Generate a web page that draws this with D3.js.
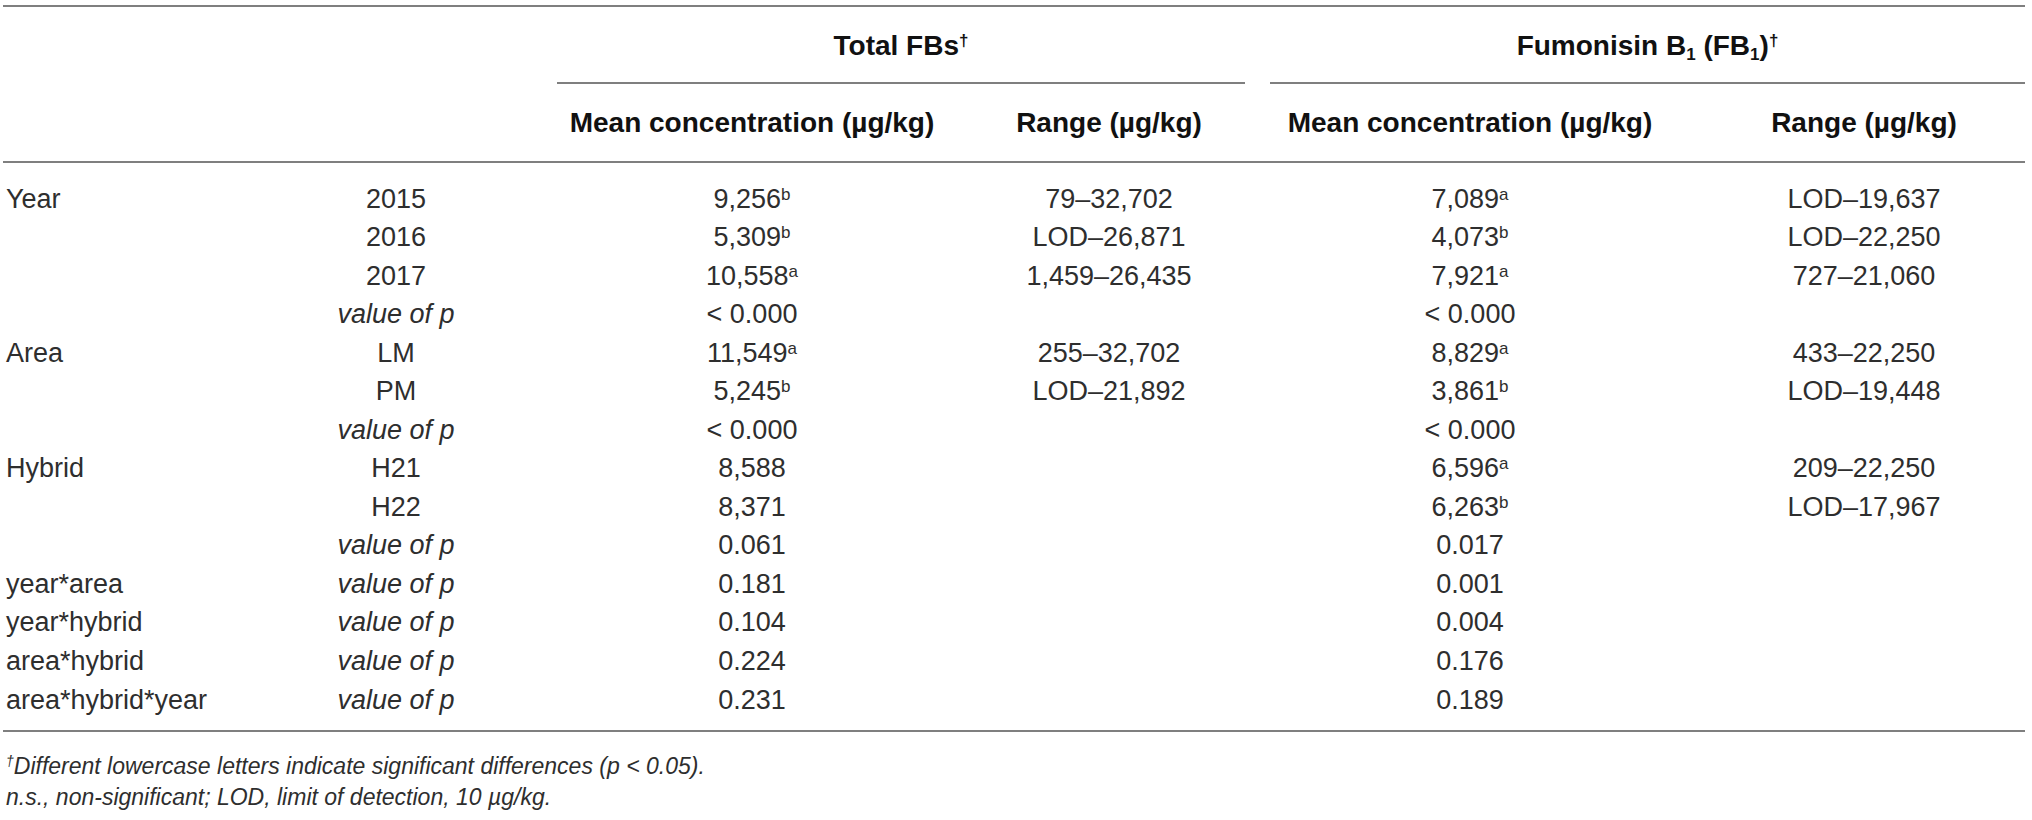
<!DOCTYPE html>
<html lang="en">
<head>
<meta charset="utf-8">
<title>Fumonisin table</title>
<style>
    body { margin: 0; background: #fff; }
    text { font-family: "Liberation Sans", Arial, sans-serif; fill: #231f20; }
    .head { font-weight: bold; font-size: 28px; fill: #111; }
    .cell { font-size: 27px; fill: #2e2e2e; }
    .note { font-size: 23px; font-style: italic; fill: #2e2e2e; }
    .rule { stroke: #7f7f7f; stroke-width: 2; }
</style>
<script src="https://cdn.jsdelivr.net/npm/d3@7"></script>
</head>
<body>
<svg width="2032" height="820"></svg>
<script>
// table content
const factors = ["Year", "", "", "", "Area", "", "", "Hybrid", "", "", "year*area", "year*hybrid", "area*hybrid", "area*hybrid*year"];
const levels = ["2015", "2016", "2017", "value of p", "LM", "PM", "value of p", "H21", "H22", "value of p", "value of p", "value of p", "value of p", "value of p"];
const fbMean = ["9,256", "5,309", "10,558", "< 0.000", "11,549", "5,245", "< 0.000", "8,588", "8,371", "0.061", "0.181", "0.104", "0.224", "0.231"];
const fbMeanSig = ["b", "b", "a", "", "a", "b", "", "", "", "", "", "", "", ""];
const fbRange = ["79–32,702", "LOD–26,871", "1,459–26,435", "", "255–32,702", "LOD–21,892", "", "", "", "", "", "", "", ""];
const fb1Mean = ["7,089", "4,073", "7,921", "< 0.000", "8,829", "3,861", "< 0.000", "6,596", "6,263", "0.017", "0.001", "0.004", "0.176", "0.189"];
const fb1MeanSig = ["a", "b", "a", "", "a", "b", "", "a", "b", "", "", "", "", ""];
const fb1Range = ["LOD–19,637", "LOD–22,250", "727–21,060", "", "433–22,250", "LOD–19,448", "", "209–22,250", "LOD–17,967", "", "", "", "", ""];

const columns = ["factor", "level", "fbMean", "fbRange", "fb1Mean", "fb1Range"];
const colHeads = ["", "", "Mean concentration (µg/kg)", "Range (µg/kg)", "Mean concentration (µg/kg)", "Range (µg/kg)"];

let svg = d3.select("svg");

let x = d3.scaleOrdinal()
    .domain(columns)
    .range([6, 396, 752, 1109, 1470, 1864]);

let y = d3.scaleLinear()
    .domain([0, factors.length - 1])
    .range([198, 699]);

const BASE = 9.5; // centre -> baseline

// rules
let rules = [
    [3, 2025, 6], [557, 1245, 83], [1270, 2025, 83], [3, 2025, 162], [3, 2025, 731]
];
svg.selectAll("line.rule").data(rules).enter().append("line")
    .attr("class", "rule")
    .attr("x1", d => d[0]).attr("x2", d => d[1])
    .attr("y1", d => d[2]).attr("y2", d => d[2]);

// group headings
let g1 = svg.append("text").attr("class", "head")
    .attr("x", (557 + 1245) / 2).attr("y", 55).attr("text-anchor", "middle");
g1.append("tspan").text("Total FBs");
g1.append("tspan").text("†").attr("font-size", 17).attr("dy", -9);

let g2 = svg.append("text").attr("class", "head")
    .attr("x", (1270 + 2025) / 2).attr("y", 55).attr("text-anchor", "middle");
g2.append("tspan").text("Fumonisin B");
g2.append("tspan").text("1").attr("font-size", 17).attr("dy", 5);
g2.append("tspan").text(" (FB").attr("dy", -5);
g2.append("tspan").text("1").attr("font-size", 17).attr("dy", 5);
g2.append("tspan").text(")").attr("dy", -5);
g2.append("tspan").text("†").attr("font-size", 17).attr("dy", -9);

// column headings
svg.selectAll("text.colhead").data(columns.slice(2)).enter().append("text")
    .attr("class", "head colhead")
    .attr("x", d => x(d))
    .attr("y", 132)
    .attr("text-anchor", "middle")
    .text((d, i) => colHeads[i + 2]);

// body
function addCol(key, vals, sup, anchor, italicWhen) {
    let t = svg.selectAll("text." + key).data(vals).enter().append("text")
        .attr("class", "cell " + key)
        .attr("x", x(key))
        .attr("y", (d, i) => y(i) + BASE)
        .attr("text-anchor", anchor)
        .style("font-style", d => italicWhen && d === italicWhen ? "italic" : null);
    t.append("tspan").text(d => d);
    if (sup) {
        t.append("tspan")
            .attr("font-size", 17)
            .attr("dy", -8)
            .text((d, i) => sup[i]);
    }
}

addCol("factor", factors, null, "start");
addCol("level", levels, null, "middle", "value of p");
addCol("fbMean", fbMean, fbMeanSig, "middle");
addCol("fbRange", fbRange, null, "middle");
addCol("fb1Mean", fb1Mean, fb1MeanSig, "middle");
addCol("fb1Range", fb1Range, null, "middle");

// footnotes
let n1 = svg.append("text").attr("class", "note").attr("x", 6).attr("y", 774);
n1.append("tspan").text("†").attr("font-size", 14).attr("dy", -8);
n1.append("tspan").text("Different lowercase letters indicate significant differences (p < 0.05).").attr("dy", 8);
svg.append("text").attr("class", "note").attr("x", 6).attr("y", 805)
    .text("n.s., non-significant; LOD, limit of detection, 10 µg/kg.");
</script>
</body>
</html>
